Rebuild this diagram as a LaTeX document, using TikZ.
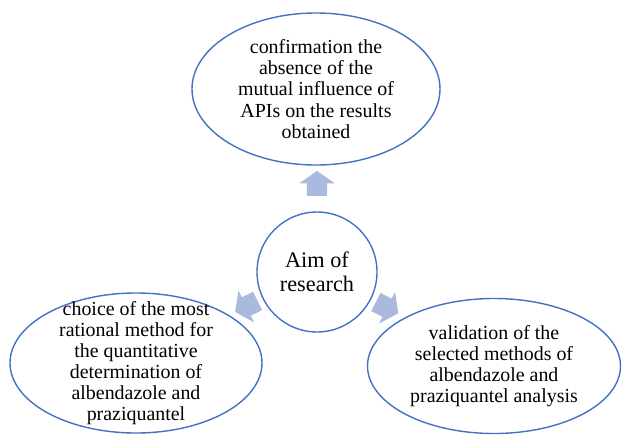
\documentclass[tikz,border=0pt]{standalone}
\usepackage{fontspec}
\setmainfont{Liberation Serif}
\usetikzlibrary{calc,shapes.geometric,shapes.arrows}
\definecolor{contorno}{RGB}{68,114,196}
\definecolor{seta}{RGB}{170,186,222}

\begin{document}
\begin{tikzpicture}[x=0.03cm,y=0.03cm,
  oval/.style={draw=contorno,line width=1.2pt,ellipse,inner xsep=0pt,inner ysep=-0.5cm,align=center,font=\fontsize{17}{18}\selectfont},
  blockarrow/.style={single arrow,fill=seta,draw=none,minimum height=0.75cm,inner xsep=0pt,inner ysep=0.3cm,single arrow head extend=0.225cm,single arrow tip angle=110}]
\useasboundingbox (0,0) rectangle (622,434);
\node[draw=contorno,line width=1.2pt,circle,minimum size=3.6cm,align=center,font=\fontsize{19}{20.5}\selectfont] (A) at (317,162) {Aim of\\research};
\node[oval,minimum width=7.44cm,minimum height=4.56cm] (T) at (316,345) {confirmation the\\absence of the\\mutual influence of\\APIs on the results\\obtained};
\node[oval,minimum width=7.56cm,minimum height=4.2cm] (L) at (136,71) {choice of the most\\rational method for\\the quantitative\\determination of\\albendazole and\\praziquantel};
\node[oval,minimum width=7.59cm,minimum height=4.05cm] (R) at (494,68) {validation of the\\selected methods of\\albendazole and\\praziquantel analysis};
\node[blockarrow,rotate=90] (s1) at ($(A)+(90:85)$) {};
\node[blockarrow,rotate=206] (s2) at ($(A)+(206:75)$) {};
\node[blockarrow,rotate=-27] (s3) at ($(A)+(-27:75)$) {};
\end{tikzpicture}
\end{document}
